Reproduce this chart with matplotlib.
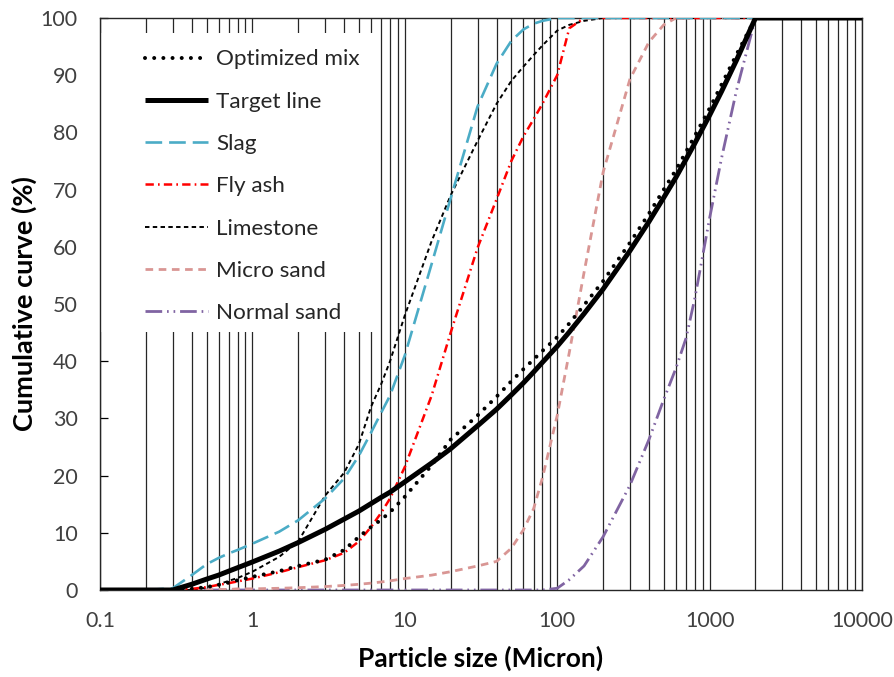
import matplotlib
matplotlib.use("Agg")
import matplotlib.pyplot as plt
from matplotlib.patches import Rectangle
from matplotlib.ticker import LogLocator, FixedLocator, NullFormatter

plt.rcParams['font.family'] = ['Lato', 'DejaVu Sans']
plt.rcParams['lines.scale_dashes'] = False

# Particle sizes (micron)
sizes = [0.1, 0.2, 0.3, 0.4, 0.5, 0.6, 0.7, 0.8,
         1, 1.5, 2, 3, 4, 5, 6, 7, 8,
         10, 15, 20, 30, 40, 50, 60, 70, 80,
         100, 120, 150, 200, 300, 400, 500, 600, 700, 800,
         1000, 1200, 1500, 2000, 3000, 5000, 10000]

optimized_mix = [0, 0, 0, 0.2, 0.5, 0.9, 1.3, 1.7,
                 2.3, 3.3, 4.2, 5.3, 7.0, 9.3, 11.0, 12.3, 13.6,
                 16.3, 21.8, 26.3, 30.5, 33.8, 36.5, 38.6, 40.3, 41.8,
                 44.2, 46.6, 49.8, 54.0, 60.7, 65.8, 70.0, 73.4, 76.6, 79.4,
                 84.2, 88.4, 93.6, 100, 100, 100, 100]

target_line = [0, 0, 0, 1.0, 1.9, 2.6, 3.3, 3.9,
               4.9, 6.8, 8.3, 10.6, 12.4, 13.8, 15.1, 16.2, 17.1,
               18.9, 22.2, 24.7, 28.7, 31.6, 34.1, 36.2, 38.1, 39.8,
               42.6, 45.1, 48.3, 52.6, 59.3, 64.4, 68.6, 72.1, 75.3, 78.1,
               83.0, 87.2, 92.6, 100, 100, 100, 100]

slag = [0, 0, 0.3, 2.6, 4.5, 5.6, 6.4, 7.0,
        8.1, 10.2, 12.2, 16.0, 19.5, 23.5, 27.5, 31.0, 34.0,
        41.0, 57.0, 68.5, 84.5, 92.0, 96.0, 98.0, 99.0, 99.5,
        100, 100, 100, 100, 100, 100, 100, 100, 100, 100,
        100, 100, 100, 100, 100, 100, 100]

fly_ash = [0, 0, 0, 0.2, 0.5, 0.9, 1.2, 1.5,
           2.0, 3.1, 4.0, 5.2, 6.5, 8.5, 11.0, 13.5, 16.0,
           21.5, 34.0, 45.0, 59.8, 68.3, 75.0, 79.3, 82.3, 85.0,
           90.0, 98.2, 100, 100, 100, 100, 100, 100, 100, 100,
           100, 100, 100, 100, 100, 100, 100]

limestone = [0, 0, 0, 0, 0.4, 1.0, 1.6, 2.1,
             3.2, 5.8, 8.5, 16.5, 20.5, 25.5, 32.0, 36.0, 40.0,
             48.0, 61.0, 69.0, 78.5, 85.0, 89.0, 91.5, 93.5, 95.2,
             97.8, 98.8, 99.5, 100, 100, 100, 100, 100, 100, 100,
             100, 100, 100, 100, 100, 100, 100]

micro_sand = [0, 0, 0, 0, 0, 0.1, 0.1, 0.2,
              0.2, 0.3, 0.4, 0.6, 0.8, 1.0, 1.2, 1.4, 1.6,
              2.0, 2.6, 3.2, 4.2, 5.0, 7.3, 10.5, 14.2, 19.6,
              30.5, 41.5, 55.5, 73.0, 89.3, 95.8, 98.8, 100, 100, 100,
              100, 100, 100, 100, 100, 100, 100]

normal_sand = [0, 0, 0, 0, 0, 0, 0, 0,
               0, 0, 0, 0, 0, 0, 0, 0, 0,
               0, 0, 0, 0, 0, 0, 0, 0, 0,
               0.3, 1.8, 4.2, 9.3, 18.3, 26.3, 33.3, 38.7, 44.0, 51.0,
               65.0, 75.6, 87.3, 100, 100, 100, 100]

x_tick_values = [0.1, 1, 10, 100, 1000, 10000]
x_tick_labels = ['0.1', '1', '10', '100', '1000', '10000']
y_tick_values = [0, 10, 20, 30, 40, 50, 60, 70, 80, 90, 100]

fig = plt.figure(figsize=(8.94, 6.77), dpi=100)
ax = fig.add_axes([100/894, 1-590/677, 762/894, 572/677])

ax.set_xscale('log')
ax.set_xlim(0.1, 10000)
ax.set_ylim(0, 100)

# vertical gridlines at every major & minor tick
ax.xaxis.set_major_locator(FixedLocator(x_tick_values))
ax.xaxis.set_minor_locator(LogLocator(base=10, subs=range(2, 10), numticks=20))
ax.xaxis.set_minor_formatter(NullFormatter())
ax.set_xticks(x_tick_values)
ax.set_xticklabels(x_tick_labels)
ax.grid(True, axis='x', which='both', color='#262626', lw=0.9, zorder=0)
ax.set_axisbelow(True)

ax.set_yticks(y_tick_values)
ax.tick_params(axis='x', which='both', length=0, pad=15, labelsize=15.5, labelcolor='#404040')
ax.tick_params(axis='y', which='major', direction='in', length=6, width=0.9,
               pad=16, labelsize=15.5, labelcolor='#404040', right=False)

for sp in ax.spines.values():
    sp.set_color('#262626')
    sp.set_linewidth(1.0)

# white box behind legend (hides gridlines there)
ax.add_patch(Rectangle((0.0, 0.451), 0.361, 0.523, transform=ax.transAxes,
                       facecolor='white', edgecolor='none', zorder=0.8))

ax.plot(sizes, normal_sand, color='#8064A2', lw=2.0,
        dashes=(12, 3.5, 1.2, 3.5, 1.2, 3.5), label='Normal sand', zorder=3)
ax.plot(sizes, micro_sand, color='#D99694', lw=2.0,
        dashes=(5.5, 4), label='Micro sand', zorder=3)
ax.plot(sizes, limestone, color='black', lw=1.4,
        dashes=(3.2, 2.4), label='Limestone', zorder=3)
ax.plot(sizes, fly_ash, color='#FF0000', lw=1.8,
        dashes=(6, 3, 1.2, 3), label='Fly ash', zorder=3)
ax.plot(sizes, slag, color='#4BACC6', lw=1.9,
        dashes=(12, 5), label='Slag', zorder=3)
ax.plot(sizes, target_line, color='black', lw=3.6, solid_capstyle='butt',
        label='Target line', zorder=4)
ax.plot(sizes, optimized_mix, color='black', lw=2.9,
        dashes=(0.01, 6.6), dash_capstyle='round', label='Optimized mix', zorder=5)

handles, labels = ax.get_legend_handles_labels()
order = ['Optimized mix', 'Target line', 'Slag', 'Fly ash', 'Limestone', 'Micro sand', 'Normal sand']
hmap = dict(zip(labels, handles))
leg = ax.legend([hmap[k] for k in order], order, loc='upper left',
                bbox_to_anchor=(0.059, 0.945), frameon=False, fontsize=16.2,
                handlelength=2.8, handletextpad=0.35, labelspacing=0.99,
                borderpad=0, borderaxespad=0)
for t in leg.get_texts():
    t.set_color('#262626')

ax.set_xlabel('Particle size (Micron)', fontsize=19, fontweight='bold', color='black')
ax.set_ylabel('Cumulative curve (%)', fontsize=19.5, fontweight='bold', color='black')
ax.xaxis.set_label_coords(0.5, -0.098)
ax.yaxis.set_label_coords(-0.083, 0.5)

fig.savefig('out.png', dpi=100)
